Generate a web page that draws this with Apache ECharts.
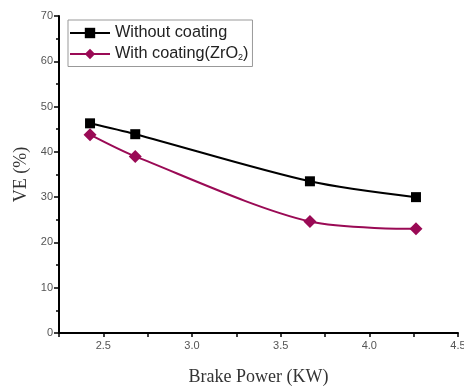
<!DOCTYPE html>
<html><head><meta charset="utf-8">
<script src="https://cdn.jsdelivr.net/npm/echarts@6/dist/echarts.min.js"></script>
<style>html,body{margin:0;padding:0;background:#fff}#c{width:464px;height:386px}</style>
</head><body><div id="c"></div>
<script>
const brakePower = [2.425, 2.68, 3.665, 4.263];
const withoutCoating = [46.3, 43.9, 33.5, 30.0];
const withCoating = [43.8, 39.0, 24.6, 23.0];
const seriesNames = ['Without coating', 'With coating(ZrO2)'];

const chart = echarts.init(document.getElementById('c'));
chart.setOption({
  animation: false,
  backgroundColor: '#fff',
  grid: {left: 59, right: 6, top: 16, bottom: 53, containLabel: false, outerBoundsMode: 'none'},
  legend: {
    orient: 'vertical', left: 68, top: 20,
    itemWidth: 40, itemHeight: 13, itemGap: 5,
    padding: [5, 4, 4, 1],
    borderColor: '#999', borderWidth: 1,
    data: seriesNames,
    formatter: function (n) { return n === seriesNames[1] ? 'With coating(ZrO{s|2})' : n; },
    textStyle: {fontFamily: 'Liberation Sans, Arial', fontSize: 16.3, color: '#222',
      rich: {s: {fontSize: 9, verticalAlign: 'bottom', padding: [8, 0, 0, 0], fontFamily: 'Liberation Sans', color: '#222'}}}
  },
  xAxis: {
    type: 'value', min: 2.25, max: 4.5, interval: 0.25,
    name: 'Brake Power (KW)', nameLocation: 'middle', nameGap: 35,
    nameTextStyle: {fontFamily: 'Liberation Serif, Times New Roman', fontSize: 18, color: '#333'},
    axisLine: {lineStyle: {color: '#000', width: 2}},
    axisTick: {show: true, length: 4, lineStyle: {color: '#000', width: 1.5}},
    splitLine: {show: false},
    axisLabel: {fontFamily: 'Liberation Sans, Arial', fontSize: 11, color: '#555', margin: 7,
      formatter: function (v) { return Math.abs(v * 2 - Math.round(v * 2)) < 1e-6 ? v.toFixed(1) : ''; }}
  },
  yAxis: {
    type: 'value', min: 0, max: 70, interval: 10,
    name: 'VE (%)', nameLocation: 'middle', nameGap: 29, nameRotate: 90,
    nameTextStyle: {fontFamily: 'Liberation Serif, Times New Roman', fontSize: 18, color: '#333'},
    axisLine: {show: true, lineStyle: {color: '#000', width: 2}},
    axisTick: {show: true, length: 5, lineStyle: {color: '#000', width: 1.5}},
    minorTick: {show: true, splitNumber: 2, length: 3, lineStyle: {color: '#000', width: 1.5}},
    splitLine: {show: false},
    axisLabel: {fontFamily: 'Liberation Sans, Arial', fontSize: 11, color: '#555', margin: 6}
  },
  series: [
    {name: seriesNames[0], type: 'line', smooth: 0.3,
     data: brakePower.map((x, i) => [x, withoutCoating[i]]),
     symbol: 'rect', symbolSize: 10,
     lineStyle: {color: '#000', width: 2}, itemStyle: {color: '#000'}},
    {name: seriesNames[1], type: 'line', smooth: 0.3,
     data: brakePower.map((x, i) => [x, withCoating[i]]),
     symbol: 'diamond', symbolSize: 13,
     lineStyle: {color: '#9a0a55', width: 2}, itemStyle: {color: '#9a0a55'}}
  ]
});
</script></body></html>
